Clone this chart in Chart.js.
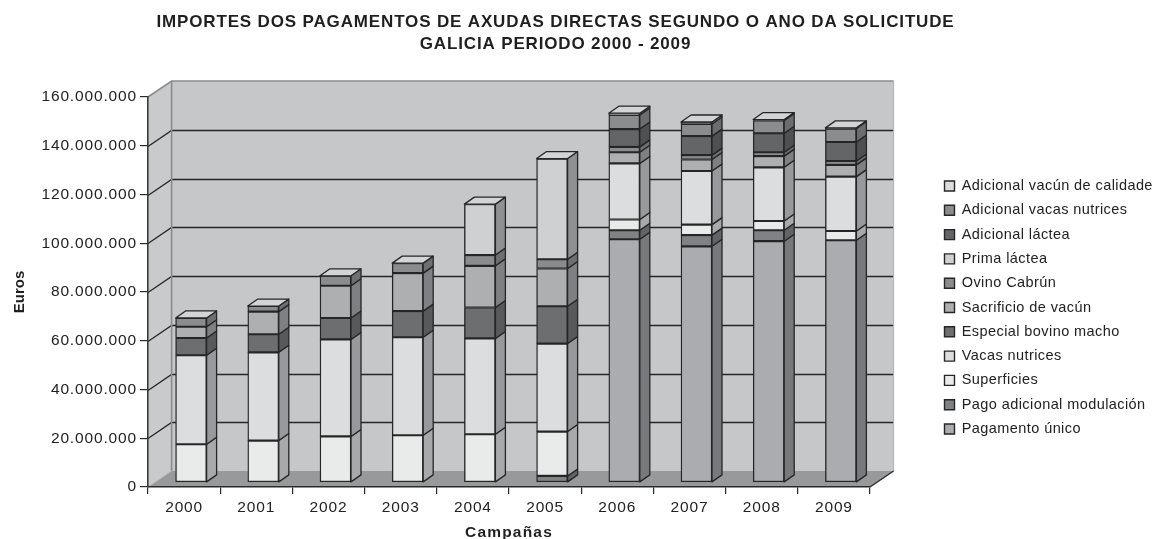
<!DOCTYPE html>
<html><head><meta charset="utf-8">
<style>html,body{margin:0;padding:0;background:#fff}#w{width:1153px;height:539px}canvas{display:block}</style>
<script src="https://cdn.jsdelivr.net/npm/chart.js@4"></script>
</head><body><div id="w"><canvas id="c" width="1153" height="539"></canvas></div>
<script>
const years = ['2000','2001','2002','2003','2004','2005','2006','2007','2008','2009'];
const titleLines = ['IMPORTES DOS PAGAMENTOS DE AXUDAS DIRECTAS SEGUNDO O ANO DA SOLICITUDE','GALICIA PERIODO 2000 - 2009'];
const yTicks = [0,20000000,40000000,60000000,80000000,100000000,120000000,140000000,160000000];
const pagamentoUnico = [null,null,null,null,null,null,99800000,96900000,99000000,99400000];
const pagoAdicional  = [null,null,null,null,null,2700000,3700000,4600000,4500000,null];
const superficies    = [15700000,17200000,18900000,19400000,19800000,18200000,4400000,4300000,3800000,3800000];
const vacasNutrices  = [36500000,36200000,39800000,40200000,39300000,36100000,23000000,22000000,22000000,22300000];
const especialBovino = [7100000,7400000,8800000,10700000,12700000,15300000,null,null,null,null];
const sacrificio     = [4600000,9300000,13200000,15600000,17100000,15500000,4600000,4700000,4600000,4800000];
const ovinoCabrun    = [3600000,2300000,4100000,4100000,4400000,3800000,2200000,1800000,1600000,1600000];
const primaLactea    = [null,null,null,null,20900000,41300000,null,null,null,null];
const adicLactea     = [null,null,null,null,null,null,7300000,7800000,7800000,7800000];
const adicVacas      = [null,null,null,null,null,null,5800000,5000000,5200000,5500000];
const adicCalidade   = [null,null,null,null,null,null,700000,800000,400000,300000];

const seriesNames = ['Pagamento único','Pago adicional modulación','Superficies','Vacas nutrices','Especial bovino macho','Sacrificio de vacún','Ovino Cabrún','Prima láctea','Adicional láctea','Adicional vacas nutrices','Adicional vacún de calidade'];
const seriesValues = [pagamentoUnico,pagoAdicional,superficies,vacasNutrices,especialBovino,sacrificio,ovinoCabrun,primaLactea,adicLactea,adicVacas,adicCalidade];
const frontColors = ['#abacaf','#808285','#e9eaea','#dcddde','#6d6e70','#aeafb1','#8b8c8e','#cfd0d2','#646567','#8b8c8e','#dcddde'];
const sideColors  = ['#78797c','#636467','#a8a9ab','#98999c','#58595b','#7f8083','#6e6f71','#8f9092','#4f5052','#6c6d6f','#a0a1a3'];

const EDGE='#262626', DX=23.6, DY=16, BX=10, BY=7, SHIFT_X=7, SHIFT_Y=-4.5;
const SP={ticks:'0.85px',title:'0.85px',legend:'0.42px',xTitle:'1.2px',yTitle:'0px'};

function poly(ctx,pts,fill,stroke,lw){
  ctx.beginPath();pts.forEach((p,i)=>i?ctx.lineTo(p[0],p[1]):ctx.moveTo(p[0],p[1]));ctx.closePath();
  if(fill){ctx.fillStyle=fill;ctx.fill();}
  if(stroke){ctx.strokeStyle=stroke;ctx.lineWidth=lw||1;ctx.stroke();}
}
function line(ctx,pts,col,lw){
  ctx.beginPath();pts.forEach((p,i)=>i?ctx.lineTo(p[0],p[1]):ctx.moveTo(p[0],p[1]));
  ctx.strokeStyle=col;ctx.lineWidth=lw;ctx.stroke();
}
const wrapMethod=(item,name,sp,tx)=>{const d=item[name];item[name]=function(a){const c=this.ctx;c.save();c.letterSpacing=sp;if(tx)c.translate(tx,0);d.call(this,a);c.restore();};};

const depth3d={
  id:'depth3d',
  beforeLayout(chart){
    if(chart.$wrapped)return;chart.$wrapped=true;
    const lg=chart.legend,f=lg.fit;
    lg.fit=function(){this.ctx.save();this.ctx.letterSpacing=SP.legend;f.call(this);this.ctx.restore();this.width=283;};
    wrapMethod(lg,'draw',SP.legend);
    wrapMethod(chart.titleBlock,'draw',SP.title,-21);
    wrapMethod(chart.scales.x,'drawTitle',SP.xTitle);
    wrapMethod(chart.scales.y,'drawTitle',SP.yTitle);
  },
  afterLayout(chart){
    const lg=chart.legend;lg.left=934.7;lg.top+=38;lg.bottom+=38;
  },
  beforeDraw(chart){
    const {ctx,chartArea:a,scales:{y}}=chart;
    ctx.letterSpacing=SP.ticks;
    const L=a.left,R=a.right,T=a.top,B=a.bottom;
    ctx.save();
    poly(ctx,[[L+DX,T-DY],[R+DX,T-DY],[R+DX,B-DY],[L+DX,B-DY]],'#c6c7c9');
    poly(ctx,[[L,T],[L+DX,T-DY],[L+DX,B-DY],[L,B]],'#c9cacc');
    poly(ctx,[[L,B],[L+DX,B-DY],[R+DX,B-DY],[R,B]],'#98999b');
    yTicks.slice(1,-1).forEach(v=>{
      const p=Math.round(y.getPixelForValue(v))+.5;
      line(ctx,[[L,p],[L+DX,p-DY],[R+DX,p-DY]],'#262626',1.3);
    });
    line(ctx,[[L,T],[L+DX,T-DY],[R+DX,T-DY]],'#8b8c8e',1.6);
    line(ctx,[[L+DX,T-DY],[L+DX,B-DY]],'#8b8c8e',1.6);
    line(ctx,[[L,B],[L+DX,B-DY]],'#b5b6b8',1);
    line(ctx,[[R+DX,T-DY],[R+DX,B-DY]],'#b0b1b3',1);
    line(ctx,[[R,B],[R+DX,B-DY]],'#262626',1.3);
    ctx.restore();
  },
  beforeDatasetsDraw(chart){chart.ctx.save();chart.ctx.translate(SHIFT_X,SHIFT_Y);},
  afterDatasetsDraw(chart){
    const ctx=chart.ctx,tops={};
    ctx.lineJoin='round';
    chart.data.datasets.forEach((ds,i)=>{
      chart.getDatasetMeta(i).data.forEach((el,k)=>{
        if(seriesValues[i][k]==null)return;
        const r=el.x+el.width/2,t=el.y,b=el.base;
        poly(ctx,[[r,b],[r+BX,b-BY],[r+BX,t-BY],[r,t]],sideColors[i],EDGE,1.3);
        if(!tops[k]||t<tops[k].y)tops[k]={y:t,l:el.x-el.width/2,r};
      });
    });
    Object.values(tops).forEach(o=>{
      poly(ctx,[[o.l,o.y],[o.l+BX,o.y-BY],[o.r+BX,o.y-BY],[o.r,o.y]],'#d3d4d6',EDGE,1.3);
    });
    ctx.restore();
  }
};

new Chart(document.getElementById('c'),{
  type:'bar',
  data:{labels:years,datasets:seriesNames.map((n,i)=>({
    label:n,data:seriesValues[i],backgroundColor:frontColors[i],borderColor:EDGE,borderWidth:1.4,borderSkipped:false,barThickness:31
  }))},
  plugins:[depth3d],
  options:{
    responsive:false,animation:false,devicePixelRatio:1,
    layout:{padding:0},
    plugins:{
      tooltip:{enabled:false},
      title:{display:true,text:titleLines,color:'#1f1f1f',font:{family:'"Liberation Sans"',size:17,weight:'bold',lineHeight:22/17},padding:{top:11.5,bottom:41.5}},
      legend:{position:'right',reverse:true,labels:{boxWidth:10,boxHeight:10,padding:9.8,color:'#222',font:{family:'"Liberation Sans"',size:14.5,lineHeight:16/14.5}}}
    },
    scales:{
      x:{stacked:true,afterFit(s){s.height=52;},
        border:{display:true,color:'#2a2a2a',width:1.6},
        grid:{display:true,drawOnChartArea:false,drawTicks:true,tickLength:7,color:'#2a2a2a',lineWidth:1.2},
        ticks:{color:'#222',padding:4,maxRotation:0,font:{family:'"Liberation Sans"',size:15.5}},
        title:{display:true,text:'Campañas',color:'#1f1f1f',font:{family:'"Liberation Sans"',size:15.5,weight:'bold'},padding:{top:4,bottom:-3}}
      },
      y:{stacked:true,min:0,max:160000000,afterFit(s){s.width=148;},
        afterBuildTicks(s){s.ticks=yTicks.map(v=>({value:v}));},
        border:{display:true,color:'#3a3a3a',width:1.6},
        grid:{display:true,drawOnChartArea:false,drawTicks:true,tickLength:8,color:'#2a2a2a',lineWidth:1.2},
        ticks:{color:'#222',padding:3,font:{family:'"Liberation Sans"',size:15.5},
          callback(v){return String(v).replace(/\B(?=(\d{3})+$)/g,'.');}},
        title:{display:true,text:'Euros',color:'#1f1f1f',font:{family:'"Liberation Sans"',size:15,weight:'bold'},padding:{top:11,bottom:0}}
      }
    }
  }
});
</script></body></html>
